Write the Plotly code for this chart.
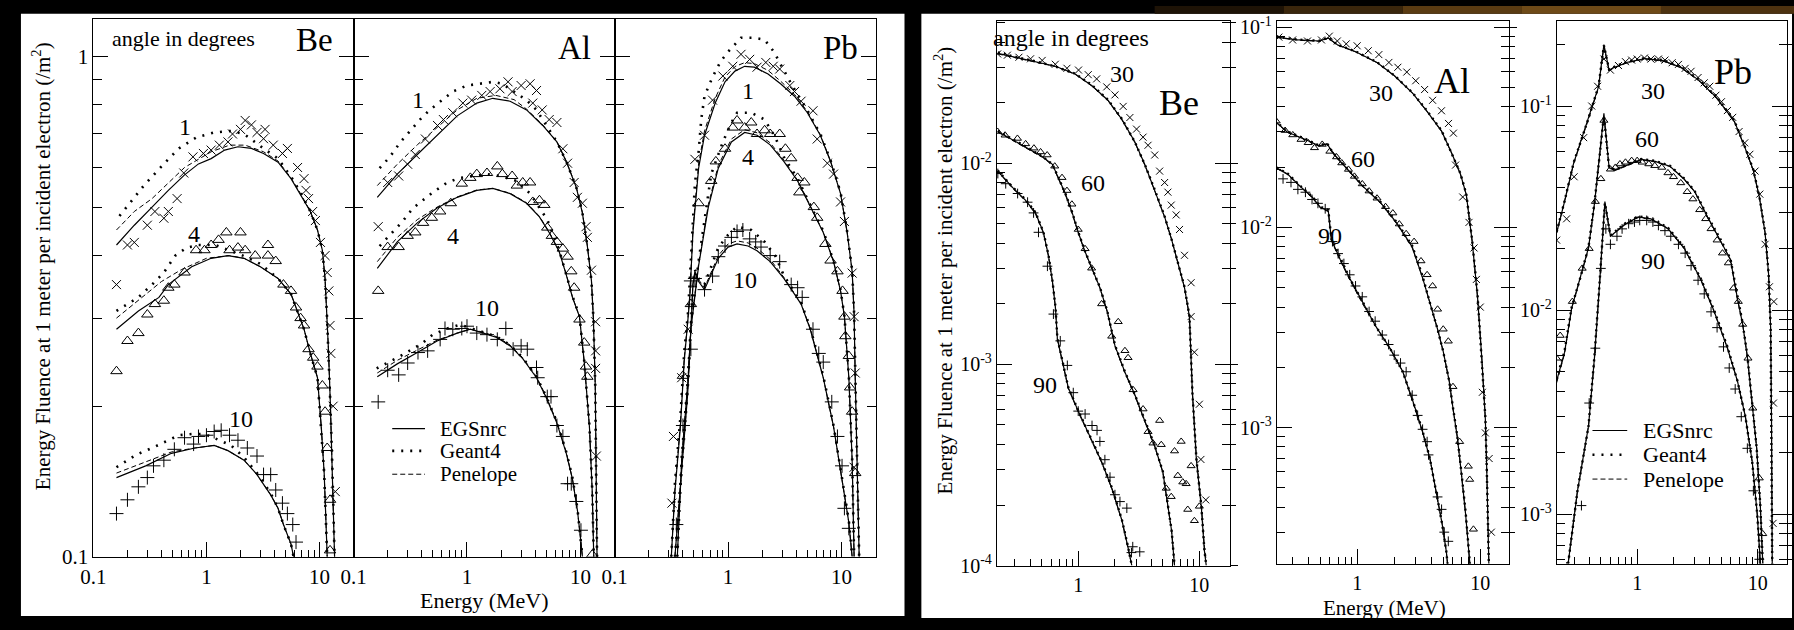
import math
import plotly.graph_objects as go

W, H = 1794, 630
SERIF = "Liberation Serif"

# ======================= LEFT FIGURE (small angles 1, 4, 10 deg) =======================
# --- Be ---
be1_egs_e = [0.16, 0.23, 0.33, 0.46, 0.64, 0.85, 1.1, 1.45, 1.9, 2.5, 3.2, 4.3, 5.6, 6.8, 8.3, 9.6, 10.6, 11.2, 11.6, 12.0, 12.5, 13.0, 13.6]
be1_egs_v = [0.42, 0.46, 0.50, 0.54, 0.58, 0.61, 0.625, 0.65, 0.66, 0.655, 0.64, 0.615, 0.57, 0.53, 0.49, 0.45, 0.41, 0.36, 0.31, 0.26, 0.2, 0.15, 0.1]
be1_pen_e = [0.16, 0.23, 0.33, 0.46, 0.64, 1.1, 1.6, 2.2, 3.2, 4.3, 5.6, 6.8, 8.3, 9.6, 10.6, 11.2, 11.6, 12.0, 12.5, 13.0, 13.6]
be1_pen_v = [0.45, 0.49, 0.52, 0.56, 0.60, 0.645, 0.665, 0.665, 0.645, 0.618, 0.572, 0.532, 0.49, 0.45, 0.41, 0.36, 0.31, 0.26, 0.2, 0.15, 0.1]
be1_g4_e = [0.17, 0.21, 0.285, 0.42, 0.57, 0.82, 1.18, 1.65, 2.15, 3.2, 4.3, 5.6, 6.8, 8.3, 9.6, 10.6, 11.2, 11.6, 12.0, 12.5, 13.0, 13.6]
be1_g4_v = [0.48, 0.51, 0.555, 0.61, 0.655, 0.69, 0.705, 0.71, 0.70, 0.655, 0.625, 0.575, 0.535, 0.49, 0.45, 0.41, 0.36, 0.31, 0.26, 0.2, 0.15, 0.1]
be1_meas_e = [0.16, 0.2, 0.23, 0.3, 0.35, 0.42, 0.46, 0.55, 0.63, 0.76, 0.94, 1.1, 1.3, 1.55, 1.7, 2.0, 2.2, 2.5, 2.8, 3.2, 3.3, 3.9, 4.7, 5.2, 6.4, 7.3, 7.6, 8.0, 8.7, 9.2, 10.2, 11.2, 11.7, 12.1, 12.4, 12.6, 13.2, 13.8]
be1_meas_v = [0.35, 0.42, 0.425, 0.46, 0.49, 0.475, 0.49, 0.52, 0.585, 0.63, 0.64, 0.65, 0.665, 0.675, 0.70, 0.715, 0.745, 0.73, 0.705, 0.685, 0.715, 0.665, 0.64, 0.655, 0.60, 0.57, 0.54, 0.52, 0.49, 0.47, 0.425, 0.40, 0.37, 0.34, 0.29, 0.255, 0.2, 0.135]

be4_egs_e = [0.16, 0.25, 0.38, 0.46, 0.74, 1.1, 1.55, 2.15, 3.0, 4.3, 5.6, 7.3, 8.3, 9.6, 10.4, 11.0, 11.4, 11.7]
be4_egs_v = [0.285, 0.31, 0.33, 0.35, 0.38, 0.395, 0.40, 0.395, 0.38, 0.36, 0.335, 0.285, 0.255, 0.228, 0.18, 0.147, 0.118, 0.1]
be4_pen_e = [0.16, 0.25, 0.4, 0.6, 1.0, 1.6, 2.15, 3.0, 4.3, 5.6, 7.3, 8.3, 9.6, 10.4, 11.0, 11.4, 11.7]
be4_pen_v = [0.30, 0.325, 0.355, 0.375, 0.395, 0.40, 0.395, 0.38, 0.36, 0.335, 0.285, 0.255, 0.228, 0.18, 0.147, 0.118, 0.1]
be4_g4_e = [0.16, 0.25, 0.33, 0.42, 0.53, 0.67, 0.85, 1.2, 2.1, 3.0, 4.3, 5.6, 7.3, 8.3, 9.6, 10.4, 11.0, 11.4, 11.7]
be4_g4_v = [0.31, 0.33, 0.35, 0.37, 0.40, 0.415, 0.42, 0.42, 0.40, 0.385, 0.36, 0.335, 0.285, 0.255, 0.228, 0.18, 0.147, 0.118, 0.1]
be4_meas_e = [0.16, 0.2, 0.25, 0.3, 0.35, 0.42, 0.46, 0.52, 0.64, 0.81, 0.96, 1.1, 1.28, 1.5, 1.6, 1.9, 2.0, 2.2, 2.7, 3.5, 3.5, 4.1, 4.8, 5.6, 6.2, 6.8, 7.3, 8.0, 8.8, 9.6, 10.6, 11.2, 11.7, 12.4, 12.4]
be4_meas_v = [0.235, 0.27, 0.28, 0.305, 0.32, 0.325, 0.345, 0.35, 0.37, 0.41, 0.41, 0.42, 0.43, 0.445, 0.41, 0.415, 0.445, 0.41, 0.40, 0.42, 0.40, 0.39, 0.35, 0.34, 0.315, 0.30, 0.29, 0.26, 0.25, 0.24, 0.22, 0.195, 0.165, 0.13, 0.103]

be10_egs_e = [0.16, 0.29, 0.49, 0.79, 1.17, 1.55, 2.15, 2.8, 3.7, 4.3, 4.8, 5.6, 5.9]
be10_egs_v = [0.144, 0.152, 0.161, 0.165, 0.167, 0.163, 0.156, 0.146, 0.133, 0.125, 0.116, 0.106, 0.1]
be10_pen_e = [0.16, 0.29, 0.49, 0.79, 1.17, 1.55, 2.15, 2.8, 3.7, 4.3, 4.8, 5.6, 5.9]
be10_pen_v = [0.147, 0.155, 0.162, 0.165, 0.167, 0.163, 0.156, 0.146, 0.133, 0.125, 0.116, 0.106, 0.1]
be10_g4_e = [0.16, 0.2, 0.24, 0.33, 0.43, 0.57, 0.74, 0.96, 1.3, 1.65, 2.15, 2.8, 3.7, 4.3, 4.8, 5.6, 5.9]
be10_g4_v = [0.151, 0.156, 0.16, 0.165, 0.17, 0.175, 0.176, 0.176, 0.171, 0.167, 0.158, 0.147, 0.134, 0.125, 0.116, 0.106, 0.1]
be10_meas_e = [0.16, 0.2, 0.25, 0.3, 0.34, 0.42, 0.52, 0.64, 0.77, 0.85, 1.0, 1.17, 1.35, 1.6, 1.9, 2.3, 2.8, 3.2, 3.7, 4.1, 4.7, 5.2, 5.8, 6.2]
be10_meas_v = [0.122, 0.13, 0.138, 0.144, 0.152, 0.156, 0.164, 0.173, 0.168, 0.174, 0.175, 0.178, 0.179, 0.175, 0.171, 0.165, 0.159, 0.146, 0.146, 0.136, 0.128, 0.122, 0.116, 0.107]

# --- Al ---
al1_egs_e = [0.162, 0.243, 0.365, 0.545, 0.82, 1.22, 1.69, 2.4, 3.35, 4.65, 6.2, 7.5, 9.2, 10.4, 11.5, 12.5, 13.0, 13.5, 13.8, 14.0]
al1_egs_v = [0.523, 0.582, 0.637, 0.696, 0.761, 0.807, 0.825, 0.814, 0.782, 0.728, 0.675, 0.617, 0.547, 0.487, 0.418, 0.356, 0.30, 0.22, 0.15, 0.1]
al1_pen_e = [0.162, 0.243, 0.365, 0.545, 0.82, 1.22, 1.8, 2.6, 3.35, 4.65, 6.2, 7.5, 9.2, 10.4, 11.5, 12.5, 13.0, 13.5, 13.8, 14.0]
al1_pen_v = [0.552, 0.609, 0.666, 0.721, 0.782, 0.825, 0.836, 0.82, 0.785, 0.73, 0.676, 0.618, 0.548, 0.488, 0.419, 0.357, 0.30, 0.22, 0.15, 0.1]
al1_g4_e = [0.17, 0.21, 0.26, 0.32, 0.385, 0.47, 0.58, 0.75, 1.0, 1.3, 1.7, 2.05, 2.6, 3.35, 4.1, 5.0, 6.2, 7.5, 9.2, 10.4, 11.5, 12.5, 13.0, 13.5, 13.8, 14.0]
al1_g4_v = [0.598, 0.631, 0.675, 0.712, 0.748, 0.782, 0.814, 0.851, 0.875, 0.882, 0.89, 0.882, 0.851, 0.818, 0.782, 0.728, 0.675, 0.617, 0.547, 0.487, 0.418, 0.356, 0.30, 0.22, 0.15, 0.1]
al1_meas_e = [0.165, 0.2, 0.25, 0.3, 0.35, 0.43, 0.55, 0.62, 0.75, 0.92, 1.1, 1.35, 1.6, 1.95, 2.3, 2.5, 3.0, 3.6, 3.8, 4.1, 4.6, 5.3, 6.2, 7.0, 7.7, 8.8, 9.4, 10.4, 11.2, 11.5, 12.5, 13.6, 13.6, 13.6, 13.8]
al1_meas_v = [0.457, 0.56, 0.577, 0.609, 0.637, 0.684, 0.728, 0.748, 0.772, 0.807, 0.818, 0.836, 0.851, 0.862, 0.89, 0.851, 0.875, 0.882, 0.807, 0.855, 0.782, 0.748, 0.738, 0.654, 0.612, 0.56, 0.523, 0.509, 0.457, 0.435, 0.374, 0.295, 0.258, 0.238, 0.159]

al4_egs_e = [0.162, 0.243, 0.365, 0.545, 0.82, 1.22, 1.69, 2.4, 3.35, 4.35, 5.3, 6.5, 7.5, 8.5, 9.8, 10.8, 12.0, 12.7, 13.1]
al4_egs_v = [0.377, 0.426, 0.465, 0.498, 0.523, 0.54, 0.545, 0.532, 0.509, 0.478, 0.445, 0.407, 0.366, 0.33, 0.302, 0.245, 0.182, 0.135, 0.1]
al4_pen_e = [0.162, 0.243, 0.365, 0.545, 0.82, 1.22, 1.69, 2.4, 3.35, 4.35, 5.3, 6.5, 7.5, 8.5, 9.8, 10.8, 12.0, 12.7, 13.1]
al4_pen_v = [0.389, 0.435, 0.472, 0.50, 0.524, 0.541, 0.545, 0.533, 0.51, 0.479, 0.446, 0.408, 0.367, 0.331, 0.302, 0.245, 0.182, 0.135, 0.1]
al4_g4_e = [0.17, 0.21, 0.27, 0.335, 0.41, 0.5, 0.67, 0.87, 1.13, 1.5, 1.95, 2.75, 3.6, 4.35, 5.1, 6.5, 7.5, 8.5, 9.8, 10.8, 12.0, 12.7, 13.1]
al4_g4_v = [0.418, 0.441, 0.468, 0.498, 0.516, 0.535, 0.56, 0.572, 0.577, 0.582, 0.577, 0.564, 0.532, 0.50, 0.472, 0.41, 0.368, 0.332, 0.303, 0.246, 0.183, 0.136, 0.1]
al4_meas_e = [0.165, 0.2, 0.25, 0.3, 0.35, 0.41, 0.49, 0.58, 0.72, 0.9, 1.07, 1.22, 1.5, 1.85, 2.05, 2.5, 2.75, 3.1, 3.6, 3.8, 4.35, 4.8, 5.1, 5.6, 6.2, 7.0, 7.7, 8.3, 8.8, 9.8, 10.8, 11.2, 11.5, 12.7]
al4_meas_v = [0.34, 0.416, 0.416, 0.438, 0.445, 0.465, 0.476, 0.49, 0.509, 0.557, 0.572, 0.582, 0.585, 0.603, 0.582, 0.577, 0.552, 0.56, 0.56, 0.512, 0.516, 0.505, 0.455, 0.438, 0.426, 0.413, 0.398, 0.372, 0.345, 0.298, 0.268, 0.24, 0.229, 0.101]

al10_egs_e = [0.162, 0.243, 0.365, 0.545, 0.82, 1.07, 1.4, 1.85, 2.4, 3.1, 4.1, 5.0, 6.2, 7.5, 8.5, 9.4, 10.1, 10.4]
al10_egs_v = [0.229, 0.243, 0.256, 0.27, 0.28, 0.285, 0.28, 0.274, 0.264, 0.249, 0.228, 0.208, 0.185, 0.161, 0.143, 0.124, 0.107, 0.1]
al10_pen_e = [0.162, 0.243, 0.365, 0.545, 0.82, 1.07, 1.4, 1.85, 2.4, 3.1, 4.1, 5.0, 6.2, 7.5, 8.5, 9.4, 10.1, 10.4]
al10_pen_v = [0.233, 0.247, 0.259, 0.271, 0.28, 0.285, 0.281, 0.275, 0.265, 0.25, 0.229, 0.209, 0.186, 0.162, 0.143, 0.124, 0.107, 0.1]
al10_g4_e = [0.16, 0.2, 0.26, 0.33, 0.41, 0.5, 0.67, 0.87, 1.13, 1.4, 1.85, 2.4, 3.1, 4.1, 5.0, 6.2, 7.5, 8.5, 9.4, 10.1, 10.4]
al10_g4_v = [0.238, 0.244, 0.252, 0.26, 0.268, 0.278, 0.286, 0.291, 0.286, 0.281, 0.275, 0.265, 0.25, 0.229, 0.209, 0.186, 0.162, 0.144, 0.125, 0.108, 0.1]
al10_meas_e = [0.165, 0.2, 0.25, 0.3, 0.37, 0.45, 0.58, 0.64, 0.75, 0.9, 1.0, 1.22, 1.5, 1.85, 2.2, 2.55, 3.0, 3.4, 4.1, 4.2, 5.1, 5.5, 6.2, 7.0, 7.7, 8.3, 9.2, 10.1]
al10_meas_v = [0.204, 0.236, 0.231, 0.244, 0.256, 0.258, 0.272, 0.286, 0.285, 0.286, 0.289, 0.28, 0.278, 0.272, 0.286, 0.26, 0.264, 0.26, 0.239, 0.228, 0.209, 0.209, 0.183, 0.174, 0.14, 0.14, 0.129, 0.113]

# --- Pb ---
pb1_egs_e = [0.316, 0.34, 0.38, 0.41, 0.445, 0.46, 0.49, 0.55, 0.62, 0.77, 0.94, 1.15, 1.4, 1.7, 2.25, 2.9, 3.85, 5.0, 6.5, 8.0, 9.8, 11.2, 12.4, 12.9, 13.2, 13.7, 14.3]
pb1_egs_v = [0.1, 0.135, 0.182, 0.245, 0.302, 0.33, 0.445, 0.598, 0.696, 0.807, 0.89, 0.935, 0.956, 0.952, 0.923, 0.882, 0.833, 0.772, 0.696, 0.617, 0.532, 0.445, 0.372, 0.306, 0.228, 0.156, 0.1]
pb1_pen_e = [0.316, 0.34, 0.38, 0.41, 0.445, 0.46, 0.49, 0.55, 0.62, 0.77, 0.94, 1.15, 1.4, 1.7, 2.25, 2.9, 3.85, 5.0, 6.5, 8.0, 9.8, 11.2, 12.4, 12.9, 13.2, 13.7, 14.3]
pb1_pen_v = [0.1, 0.137, 0.185, 0.248, 0.305, 0.335, 0.452, 0.61, 0.71, 0.825, 0.91, 0.955, 0.972, 0.968, 0.938, 0.893, 0.84, 0.776, 0.698, 0.618, 0.533, 0.446, 0.372, 0.306, 0.228, 0.156, 0.1]
pb1_g4_e = [0.316, 0.34, 0.38, 0.41, 0.445, 0.51, 0.55, 0.58, 0.62, 0.73, 0.86, 1.03, 1.3, 1.7, 2.1, 2.55, 2.9, 3.6, 5.0, 6.5, 8.0, 9.8, 11.2, 12.4, 12.9, 13.2, 13.7, 14.3]
pb1_g4_v = [0.1, 0.14, 0.19, 0.255, 0.31, 0.556, 0.645, 0.748, 0.833, 0.91, 0.978, 1.03, 1.09, 1.09, 1.08, 1.02, 0.965, 0.882, 0.78, 0.70, 0.62, 0.535, 0.447, 0.374, 0.307, 0.229, 0.157, 0.1]
pb1_meas_e = [0.32, 0.33, 0.39, 0.445, 0.51, 0.62, 0.73, 0.9, 1.1, 1.3, 1.55, 1.8, 2.15, 2.5, 2.85, 3.5, 3.85, 4.4, 5.6, 6.1, 7.5, 8.5, 9.8, 10.6, 12.4, 12.9, 13.2, 12.9]
pb1_meas_v = [0.128, 0.174, 0.228, 0.285, 0.623, 0.696, 0.818, 0.914, 0.956, 1.01, 0.987, 0.952, 0.973, 0.956, 0.944, 0.875, 0.851, 0.814, 0.779, 0.684, 0.612, 0.582, 0.512, 0.468, 0.369, 0.302, 0.233, 0.151]

pb4_egs_e = [0.357, 0.39, 0.445, 0.47, 0.55, 0.67, 0.82, 1.07, 1.4, 1.8, 2.35, 3.1, 4.1, 5.3, 6.9, 8.5, 9.8, 10.6, 11.6, 12.4, 12.9]
pb4_egs_v = [0.1, 0.156, 0.228, 0.285, 0.382, 0.5, 0.598, 0.675, 0.705, 0.696, 0.666, 0.617, 0.564, 0.5, 0.445, 0.389, 0.34, 0.302, 0.228, 0.156, 0.1]
pb4_pen_e = [0.357, 0.39, 0.445, 0.47, 0.55, 0.67, 0.82, 1.07, 1.4, 1.8, 2.35, 3.1, 4.1, 5.3, 6.9, 8.5, 9.8, 10.6, 11.6, 12.4, 12.9]
pb4_pen_v = [0.1, 0.157, 0.23, 0.288, 0.386, 0.506, 0.606, 0.684, 0.714, 0.704, 0.672, 0.621, 0.566, 0.502, 0.446, 0.39, 0.34, 0.302, 0.228, 0.156, 0.1]
pb4_g4_e = [0.357, 0.39, 0.445, 0.47, 0.55, 0.71, 0.9, 1.07, 1.2, 1.6, 2.1, 2.6, 3.1, 4.1, 5.3, 6.9, 8.5, 9.8, 10.6, 11.6, 12.4, 12.9]
pb4_g4_v = [0.1, 0.158, 0.23, 0.29, 0.39, 0.582, 0.675, 0.738, 0.772, 0.772, 0.748, 0.69, 0.63, 0.57, 0.505, 0.448, 0.39, 0.342, 0.303, 0.229, 0.157, 0.1]
pb4_meas_e = [0.4, 0.47, 0.55, 0.71, 0.78, 0.94, 1.1, 1.2, 1.4, 1.6, 1.8, 2.1, 2.35, 2.85, 3.2, 3.6, 4.1, 4.25, 4.7, 5.7, 6.1, 7.2, 8.0, 9.2, 10.2, 10.6, 10.8, 11.6, 11.9, 12.4, 13.2]
pb4_meas_v = [0.23, 0.32, 0.509, 0.564, 0.617, 0.654, 0.721, 0.745, 0.721, 0.738, 0.70, 0.712, 0.70, 0.70, 0.654, 0.626, 0.572, 0.535, 0.56, 0.50, 0.476, 0.422, 0.391, 0.372, 0.34, 0.302, 0.276, 0.252, 0.218, 0.195, 0.147]

pb10_egs_e = [0.34, 0.39, 0.44, 0.47, 0.49, 0.51, 0.55, 0.62, 0.71, 0.82, 1.0, 1.2, 1.5, 1.8, 2.35, 3.1, 3.85, 4.4, 5.3, 6.9, 8.5, 10.0, 11.6, 12.4]
pb10_egs_v = [0.1, 0.146, 0.211, 0.285, 0.35, 0.37, 0.355, 0.342, 0.366, 0.395, 0.416, 0.422, 0.418, 0.409, 0.389, 0.36, 0.335, 0.32, 0.285, 0.228, 0.182, 0.146, 0.117, 0.1]
pb10_pen_e = [0.34, 0.39, 0.44, 0.47, 0.49, 0.51, 0.55, 0.62, 0.71, 0.82, 1.0, 1.2, 1.5, 1.8, 2.35, 3.1, 3.85, 4.4, 5.3, 6.9, 8.5, 10.0, 11.6, 12.4]
pb10_pen_v = [0.1, 0.147, 0.213, 0.287, 0.352, 0.373, 0.358, 0.345, 0.37, 0.4, 0.422, 0.428, 0.424, 0.414, 0.393, 0.362, 0.336, 0.321, 0.286, 0.228, 0.182, 0.146, 0.117, 0.1]
pb10_g4_e = [0.34, 0.39, 0.44, 0.47, 0.49, 0.51, 0.55, 0.62, 0.71, 0.82, 1.0, 1.2, 1.6, 2.1, 2.6, 3.1, 3.85, 4.4, 5.3, 6.9, 8.5, 10.0, 11.6, 12.4]
pb10_g4_v = [0.1, 0.15, 0.215, 0.29, 0.355, 0.375, 0.36, 0.35, 0.38, 0.415, 0.44, 0.457, 0.45, 0.426, 0.40, 0.365, 0.338, 0.322, 0.287, 0.23, 0.183, 0.147, 0.118, 0.1]
pb10_meas_e = [0.35, 0.4, 0.47, 0.47, 0.51, 0.62, 0.73, 0.82, 0.94, 1.07, 1.2, 1.35, 1.55, 1.75, 1.95, 2.35, 2.85, 3.6, 4.1, 4.5, 5.6, 6.3, 6.9, 8.2, 9.2, 10.1, 10.6, 11.6]
pb10_meas_v = [0.116, 0.183, 0.26, 0.356, 0.36, 0.342, 0.364, 0.398, 0.418, 0.435, 0.447, 0.45, 0.432, 0.426, 0.416, 0.40, 0.389, 0.35, 0.345, 0.33, 0.285, 0.255, 0.245, 0.204, 0.174, 0.152, 0.125, 0.114]

# ======================= RIGHT FIGURE (large angles 30, 60, 90 deg) =======================
r_be30_e = [0.217, 0.305, 0.444, 0.648, 0.944, 1.30, 1.76, 2.30, 2.93, 3.54, 4.28, 5.17, 5.89, 6.61, 7.54, 8.28, 8.77, 9.45, 10.4, 11.0, 11.4]
r_be30_egs = [0.0352, 0.0336, 0.0321, 0.0304, 0.0278, 0.0243, 0.0206, 0.0165, 0.0128, 0.00989, 0.00732, 0.00542, 0.0042, 0.00325, 0.00241, 0.00173, 0.000708, 0.000336, 0.000193, 0.000119, 0.0001]
r_be30_g4 = [0.0356, 0.0338, 0.0322, 0.0303, 0.0279, 0.0245, 0.0207, 0.0166, 0.0128, 0.0099, 0.0074, 0.00545, 0.0042, 0.00328, 0.00243, 0.00175, 0.00072, 0.00034, 0.000195, 0.00012, 0.0001]
r_be30_pen = [0.0350, 0.0335, 0.0320, 0.0303, 0.0277, 0.0242, 0.0205, 0.0164, 0.0127, 0.0098, 0.0073, 0.0054, 0.0042, 0.00325, 0.00242, 0.00174, 0.00073, 0.00035, 0.0002, 0.000125, 0.000105]
r_be30_meas_e = [0.216, 0.26, 0.324, 0.404, 0.504, 0.647, 0.807, 1.006, 1.21, 1.42, 1.72, 2.01, 2.35, 2.67, 3.03, 3.43, 3.77, 4.28, 4.70, 5.17, 5.50, 5.86, 6.44, 6.86, 7.54, 8.55, 8.55, 9.1, 10.0, 10.3, 11.3]
r_be30_meas_v = [0.035, 0.0345, 0.0337, 0.0331, 0.0325, 0.0311, 0.0297, 0.0291, 0.0276, 0.0263, 0.024, 0.0219, 0.0192, 0.0169, 0.0148, 0.0135, 0.0123, 0.011, 0.00915, 0.00803, 0.00719, 0.0062, 0.00554, 0.00469, 0.00349, 0.00255, 0.00173, 0.00115, 0.000634, 0.000337, 0.000212]

r_be60_e = [0.217, 0.288, 0.389, 0.507, 0.612, 0.686, 0.782, 0.893, 1.0, 1.14, 1.30, 1.51, 1.73, 2.01, 2.43, 2.93, 3.54, 4.28, 5.0, 5.5, 5.9, 6.24]
r_be60_egs = [0.0144, 0.0131, 0.0118, 0.0108, 0.00989, 0.00847, 0.00708, 0.00567, 0.00454, 0.00363, 0.00301, 0.00241, 0.00185, 0.00124, 0.000915, 0.000708, 0.000525, 0.000393, 0.000291, 0.000201, 0.000149, 0.0001]
r_be60_g4 = [0.0145, 0.0132, 0.0119, 0.0108, 0.0099, 0.0085, 0.0071, 0.0057, 0.00456, 0.00365, 0.00302, 0.00242, 0.00186, 0.00125, 0.00092, 0.00071, 0.00053, 0.000395, 0.000293, 0.000203, 0.00015, 0.0001]
r_be60_pen = [0.0143, 0.013, 0.0118, 0.0107, 0.0098, 0.0084, 0.007, 0.0056, 0.0045, 0.0036, 0.003, 0.0024, 0.00184, 0.00123, 0.00091, 0.0007, 0.00052, 0.00039, 0.00029, 0.0002, 0.000148, 0.0001]
r_be60_meas_e = [0.216, 0.249, 0.315, 0.368, 0.431, 0.489, 0.554, 0.64, 0.735, 0.807, 0.887, 1.0, 1.14, 1.29, 1.56, 1.89, 2.14, 2.43, 2.58, 2.84, 3.43, 3.77, 4.14, 4.7, 4.85, 5.33, 5.86, 6.24, 6.64, 7.08, 7.3, 7.78, 8.02, 8.55, 9.1, 10.0]
r_be60_meas_v = [0.0144, 0.0138, 0.0133, 0.0125, 0.0119, 0.0114, 0.011, 0.00968, 0.00849, 0.00732, 0.00626, 0.00469, 0.00376, 0.00301, 0.002, 0.00138, 0.00163, 0.00117, 0.00108, 0.000748, 0.0006, 0.000463, 0.000406, 0.000526, 0.000399, 0.000242, 0.00022, 0.000371, 0.00028, 0.000414, 0.00026, 0.000255, 0.00019, 0.000313, 0.000167, 0.000197]

r_be90_e = [0.217, 0.288, 0.368, 0.444, 0.516, 0.568, 0.612, 0.648, 0.673, 0.74, 0.828, 1.0, 1.21, 1.57, 1.9, 2.3, 2.57, 2.77]
r_be90_egs = [0.00915, 0.00757, 0.00655, 0.00567, 0.00454, 0.00348, 0.0026, 0.00193, 0.00134, 0.00102, 0.000766, 0.000586, 0.000454, 0.000325, 0.000241, 0.000167, 0.000124, 0.0001]
r_be90_g4 = [0.0092, 0.0076, 0.0066, 0.0057, 0.00456, 0.0035, 0.00262, 0.00195, 0.00135, 0.00103, 0.00077, 0.00059, 0.000456, 0.000327, 0.000243, 0.000168, 0.000125, 0.0001]
r_be90_pen = [0.0091, 0.0075, 0.0065, 0.0056, 0.0045, 0.00345, 0.00258, 0.00192, 0.00133, 0.00101, 0.00076, 0.00058, 0.00045, 0.000322, 0.00024, 0.000166, 0.000123, 0.0001]
r_be90_meas_e = [0.217, 0.252, 0.316, 0.382, 0.428, 0.47, 0.557, 0.624, 0.711, 0.813, 0.91, 1.0, 1.14, 1.3, 1.43, 1.51, 1.66, 1.83, 2.01, 2.21, 2.52, 2.75, 2.82, 3.22]
r_be90_meas_v = [0.0089, 0.00792, 0.00708, 0.00641, 0.00567, 0.00454, 0.00308, 0.00178, 0.00131, 0.000989, 0.000724, 0.000586, 0.000567, 0.000497, 0.00047, 0.000414, 0.000336, 0.000275, 0.000225, 0.000208, 0.000193, 0.000116, 0.000124, 0.000117]

r_al30_e = [0.222, 0.334, 0.494, 0.583, 0.69, 0.964, 1.45, 2.02, 2.83, 3.67, 4.85, 5.83, 6.9, 7.7, 8.6, 9.5, 10.3, 11.0, 11.3, 11.6, 11.8]
r_al30_egs = [0.0894, 0.0865, 0.0855, 0.0885, 0.0818, 0.0757, 0.0668, 0.0571, 0.0468, 0.0383, 0.0303, 0.0237, 0.0185, 0.0146, 0.0085, 0.0045, 0.0022, 0.0011, 0.0006, 0.0003, 0.00018]
r_al30_g4 = [0.0898, 0.0868, 0.0858, 0.0888, 0.082, 0.076, 0.067, 0.0573, 0.047, 0.0385, 0.0305, 0.0238, 0.0186, 0.0147, 0.0086, 0.0046, 0.00225, 0.00112, 0.00061, 0.00031, 0.00018]
r_al30_pen = [0.089, 0.0862, 0.0852, 0.0882, 0.0815, 0.0755, 0.0666, 0.057, 0.0467, 0.0382, 0.0302, 0.0236, 0.0184, 0.0145, 0.0085, 0.0045, 0.0022, 0.0011, 0.0006, 0.0003, 0.00018]
r_al30_meas_e = [0.231, 0.299, 0.395, 0.513, 0.594, 0.69, 0.815, 1.0, 1.23, 1.5, 1.81, 2.14, 2.53, 2.99, 3.53, 4.1, 4.84, 5.52, 6.05, 6.3, 7.2, 8.1, 8.9, 9.3, 10.0, 10.4, 11.0, 11.8, 12.3]
r_al30_meas_v = [0.0894, 0.0865, 0.0855, 0.0865, 0.0904, 0.0855, 0.0827, 0.0809, 0.0764, 0.0731, 0.0668, 0.0632, 0.0598, 0.0541, 0.0489, 0.0432, 0.0383, 0.0331, 0.0296, 0.0205, 0.0142, 0.0106, 0.0079, 0.0055, 0.004, 0.0015, 0.00094, 0.0007, 0.0003]

r_al60_e = [0.215, 0.27, 0.38, 0.49, 0.57, 0.63, 0.75, 0.9, 1.12, 1.55, 2.1, 2.8, 3.4, 3.9, 4.5, 5.0, 5.6, 6.0, 6.5, 7.0, 7.6, 8.4]
r_al60_egs = [0.034, 0.030, 0.0275, 0.0256, 0.0262, 0.0237, 0.021, 0.0185, 0.016, 0.0133, 0.0105, 0.008, 0.0056, 0.0042, 0.0031, 0.0024, 0.0017, 0.00125, 0.0009, 0.0006, 0.00037, 0.00018]
r_al60_g4 = [0.0342, 0.0302, 0.0277, 0.0257, 0.0263, 0.0238, 0.0211, 0.0186, 0.0161, 0.0134, 0.0106, 0.0081, 0.0057, 0.0042, 0.0031, 0.0024, 0.0017, 0.00126, 0.00091, 0.00061, 0.00038, 0.00018]
r_al60_pen = [0.0338, 0.0299, 0.0274, 0.0255, 0.0261, 0.0236, 0.0209, 0.0184, 0.0159, 0.0132, 0.0104, 0.0079, 0.0056, 0.0042, 0.0031, 0.0024, 0.0017, 0.00124, 0.0009, 0.0006, 0.00037, 0.00018]
r_al60_meas_e = [0.22, 0.26, 0.3, 0.35, 0.4, 0.45, 0.52, 0.6, 0.68, 0.75, 0.85, 0.95, 1.1, 1.25, 1.45, 1.7, 1.95, 2.2, 2.5, 2.9, 3.3, 3.7, 4.1, 4.5, 5.0, 5.5, 6.0, 6.8, 8.0, 8.2, 8.8, 9.4]
r_al60_meas_v = [0.034, 0.0305, 0.029, 0.0275, 0.0265, 0.025, 0.026, 0.024, 0.0225, 0.021, 0.0195, 0.018, 0.0165, 0.0152, 0.014, 0.0127, 0.0118, 0.0104, 0.0093, 0.0085, 0.0068, 0.0058, 0.0051, 0.0039, 0.0031, 0.0027, 0.0016, 0.00085, 0.00064, 0.00055, 0.00031, 0.0002]

r_al90_e = [0.222, 0.272, 0.347, 0.43, 0.503, 0.583, 0.617, 0.73, 0.879, 1.12, 1.42, 1.84, 2.35, 2.9, 3.4, 3.9, 4.4, 4.9, 5.3, 5.55]
r_al90_egs = [0.0198, 0.0185, 0.016, 0.0142, 0.0126, 0.0121, 0.0087, 0.0069, 0.0055, 0.0042, 0.0032, 0.0025, 0.0019, 0.0013, 0.00095, 0.0007, 0.00048, 0.00033, 0.00024, 0.00018]
r_al90_g4 = [0.0199, 0.0186, 0.0161, 0.0143, 0.0127, 0.0122, 0.0088, 0.007, 0.0055, 0.0042, 0.0032, 0.0025, 0.0019, 0.0013, 0.00096, 0.0007, 0.00048, 0.00033, 0.00024, 0.00018]
r_al90_pen = [0.0197, 0.0184, 0.0159, 0.0141, 0.0125, 0.012, 0.0086, 0.0068, 0.0054, 0.0041, 0.0032, 0.0025, 0.0019, 0.0013, 0.00095, 0.0007, 0.00048, 0.00033, 0.00024, 0.00018]
r_al90_meas_e = [0.22, 0.25, 0.29, 0.33, 0.38, 0.43, 0.48, 0.55, 0.63, 0.7, 0.78, 0.87, 0.97, 1.1, 1.25, 1.4, 1.6, 1.8, 2.0, 2.25, 2.5, 2.8, 3.1, 3.4, 3.7, 3.8, 4.5, 4.85, 5.1, 5.5]
r_al90_meas_v = [0.0195, 0.0175, 0.0168, 0.0155, 0.015, 0.0138, 0.0132, 0.0124, 0.0085, 0.0074, 0.0066, 0.0058, 0.0051, 0.0045, 0.0038, 0.0034, 0.0029, 0.0026, 0.0023, 0.0021, 0.0019, 0.00145, 0.00115, 0.00098, 0.00085, 0.00073, 0.00045, 0.00039, 0.0003, 0.00027]

r_pb30_e = [0.215, 0.25, 0.297, 0.388, 0.478, 0.53, 0.585, 0.65, 0.828, 1.16, 1.64, 2.3, 3.24, 4.55, 6.41, 7.74, 9.18, 10.3, 11.5, 12.3, 12.8, 13.0, 13.2]
r_pb30_egs = [0.024, 0.034, 0.0524, 0.0839, 0.124, 0.2, 0.15, 0.155, 0.164, 0.171, 0.167, 0.155, 0.134, 0.110, 0.0839, 0.0638, 0.0485, 0.036, 0.024, 0.015, 0.008, 0.003, 0.0005]
r_pb30_g4 = [0.0242, 0.0342, 0.0527, 0.0843, 0.125, 0.198, 0.151, 0.156, 0.165, 0.172, 0.168, 0.156, 0.135, 0.111, 0.0845, 0.0642, 0.0488, 0.0362, 0.0242, 0.0151, 0.0081, 0.003, 0.0005]
r_pb30_pen = [0.0238, 0.0338, 0.052, 0.0835, 0.123, 0.195, 0.149, 0.154, 0.163, 0.17, 0.166, 0.154, 0.133, 0.109, 0.0835, 0.0635, 0.0483, 0.0358, 0.0239, 0.0149, 0.008, 0.003, 0.0005]
r_pb30_meas_e = [0.215, 0.26, 0.3, 0.36, 0.42, 0.47, 0.53, 0.6, 0.7, 0.8, 0.9, 1.0, 1.15, 1.3, 1.5, 1.7, 1.95, 2.2, 2.5, 2.8, 3.2, 3.6, 4.0, 4.5, 5.0, 5.6, 6.2, 7.0, 7.8, 8.6, 9.5, 10.4, 11.5, 12.5, 13.6, 13.5, 13.4]
r_pb30_meas_v = [0.022, 0.028, 0.045, 0.07, 0.1, 0.125, 0.17, 0.15, 0.158, 0.165, 0.168, 0.17, 0.172, 0.17, 0.17, 0.168, 0.163, 0.16, 0.153, 0.148, 0.138, 0.13, 0.125, 0.113, 0.105, 0.095, 0.088, 0.075, 0.066, 0.058, 0.048, 0.037, 0.021, 0.013, 0.011, 0.0035, 0.0009]

r_pb60_e = [0.215, 0.25, 0.286, 0.34, 0.395, 0.443, 0.486, 0.53, 0.585, 0.65, 0.83, 1.08, 1.41, 1.87, 2.44, 3.0, 3.84, 4.91, 5.94, 6.78, 7.5, 8.2, 9.0, 9.8, 10.5, 11.0, 11.3]
r_pb60_egs = [0.0045, 0.0062, 0.0102, 0.0145, 0.0202, 0.0334, 0.0553, 0.092, 0.05, 0.0485, 0.0513, 0.0547, 0.0535, 0.0507, 0.044, 0.0381, 0.0286, 0.022, 0.0177, 0.0114, 0.0085, 0.0059, 0.0035, 0.0021, 0.0011, 0.0006, 0.0004]
r_pb60_g4 = [0.0046, 0.0063, 0.0103, 0.0146, 0.0204, 0.0337, 0.0556, 0.09, 0.0502, 0.0488, 0.0516, 0.055, 0.0538, 0.051, 0.0443, 0.0383, 0.0288, 0.0222, 0.0178, 0.0115, 0.0086, 0.006, 0.0036, 0.0021, 0.0011, 0.0006, 0.0004]
r_pb60_pen = [0.0044, 0.0061, 0.0101, 0.0144, 0.02, 0.0331, 0.055, 0.089, 0.0497, 0.0482, 0.051, 0.0544, 0.0532, 0.0505, 0.0438, 0.038, 0.0285, 0.0219, 0.0176, 0.0113, 0.0085, 0.0059, 0.0035, 0.0021, 0.0011, 0.0006, 0.0004]
r_pb60_meas_e = [0.215, 0.23, 0.29, 0.35, 0.4, 0.45, 0.5, 0.53, 0.6, 0.66, 0.72, 0.8, 0.9, 1.0, 1.1, 1.25, 1.4, 1.6, 1.8, 2.0, 2.3, 2.6, 2.9, 3.3, 3.7, 4.1, 4.6, 5.1, 5.7, 6.3, 6.9, 7.5, 8.3, 9.1, 10.3, 11.0]
r_pb60_meas_v = [0.0058, 0.0075, 0.011, 0.016, 0.02, 0.034, 0.044, 0.085, 0.049, 0.05, 0.052, 0.053, 0.054, 0.054, 0.053, 0.052, 0.051, 0.05, 0.047, 0.045, 0.042, 0.038, 0.035, 0.031, 0.028, 0.025, 0.022, 0.019, 0.017, 0.0128, 0.011, 0.0085, 0.0058, 0.0033, 0.0015, 0.0008]

r_pb90_e = [0.26, 0.32, 0.395, 0.443, 0.486, 0.525, 0.54, 0.6, 0.78, 1.02, 1.3, 1.8, 2.44, 3.36, 4.31, 5.61, 6.78, 7.9, 9.0, 9.9, 10.5, 10.8]
r_pb90_egs = [0.0005, 0.0013, 0.0027, 0.0059, 0.013, 0.026, 0.034, 0.023, 0.0262, 0.0286, 0.028, 0.0251, 0.0202, 0.0142, 0.01, 0.0065, 0.0045, 0.003, 0.0018, 0.001, 0.0006, 0.00045]
r_pb90_g4 = [0.0005, 0.0013, 0.0027, 0.006, 0.0132, 0.0263, 0.0335, 0.0232, 0.0264, 0.0288, 0.0282, 0.0253, 0.0204, 0.0143, 0.0101, 0.0066, 0.0045, 0.003, 0.0018, 0.001, 0.0006, 0.00045]
r_pb90_pen = [0.0005, 0.0013, 0.0027, 0.0058, 0.0129, 0.0258, 0.0335, 0.0229, 0.026, 0.0284, 0.0278, 0.025, 0.0201, 0.0141, 0.0099, 0.0065, 0.0045, 0.003, 0.0018, 0.001, 0.0006, 0.00045]
r_pb90_meas_e = [0.26, 0.345, 0.4, 0.45, 0.5, 0.55, 0.6, 0.68, 0.75, 0.85, 0.95, 1.05, 1.2, 1.35, 1.5, 1.7, 1.9, 2.2, 2.5, 2.8, 3.2, 3.6, 4.1, 4.6, 5.2, 5.8, 6.5, 7.3, 8.2, 9.2, 10.3]
r_pb90_meas_v = [0.00055, 0.0011, 0.0035, 0.0065, 0.016, 0.025, 0.021, 0.023, 0.025, 0.0265, 0.027, 0.0275, 0.0275, 0.027, 0.026, 0.0245, 0.023, 0.021, 0.019, 0.0165, 0.014, 0.012, 0.0098, 0.0082, 0.0066, 0.0052, 0.0041, 0.003, 0.0021, 0.0013, 0.0006]

# ======================= figure =======================
fig = go.Figure()


def pxx(x):
    return x / W


def pxy(y):
    return 1 - y / H


def ax_names(n):
    s = "" if n == 1 else str(n)
    return "x" + s, "y" + s, "xaxis" + s, "yaxis" + s


def add_lines(n, egs, pen, g4, dotdash, g4w):
    xr, yr, _, _ = ax_names(n)
    fig.add_trace(go.Scatter(x=pen[0], y=pen[1], mode="lines", xaxis=xr, yaxis=yr,
                             line=dict(color="black", width=1, dash="5px,3px"),
                             showlegend=False, hoverinfo="skip"))
    fig.add_trace(go.Scatter(x=egs[0], y=egs[1], mode="lines", xaxis=xr, yaxis=yr,
                             line=dict(color="black", width=1.2),
                             showlegend=False, hoverinfo="skip"))
    fig.add_trace(go.Scatter(x=g4[0], y=g4[1], mode="lines", xaxis=xr, yaxis=yr,
                             line=dict(color="black", width=g4w, dash=dotdash),
                             showlegend=False, hoverinfo="skip"))


def add_meas(n, e, v, sym, size):
    xr, yr, _, _ = ax_names(n)
    fig.add_trace(go.Scatter(x=e, y=v, mode="markers", xaxis=xr, yaxis=yr,
                             marker=dict(symbol=sym, size=size, color="black",
                                         line=dict(color="black", width=1)),
                             showlegend=False, hoverinfo="skip"))


XSYM, TSYM, PSYM = "x-thin-open", "triangle-up-open", "cross-thin-open"
LDOT = "2px,7px"
RDOT = "2px,4px"

left_sets = [
    (1, [(be1_egs_e, be1_egs_v), (be1_pen_e, be1_pen_v), (be1_g4_e, be1_g4_v), (be1_meas_e, be1_meas_v), XSYM, 9],
        [(be4_egs_e, be4_egs_v), (be4_pen_e, be4_pen_v), (be4_g4_e, be4_g4_v), (be4_meas_e, be4_meas_v), TSYM, 10],
        [(be10_egs_e, be10_egs_v), (be10_pen_e, be10_pen_v), (be10_g4_e, be10_g4_v), (be10_meas_e, be10_meas_v), PSYM, 10]),
    (2, [(al1_egs_e, al1_egs_v), (al1_pen_e, al1_pen_v), (al1_g4_e, al1_g4_v), (al1_meas_e, al1_meas_v), XSYM, 9],
        [(al4_egs_e, al4_egs_v), (al4_pen_e, al4_pen_v), (al4_g4_e, al4_g4_v), (al4_meas_e, al4_meas_v), TSYM, 10],
        [(al10_egs_e, al10_egs_v), (al10_pen_e, al10_pen_v), (al10_g4_e, al10_g4_v), (al10_meas_e, al10_meas_v), PSYM, 10]),
    (3, [(pb1_egs_e, pb1_egs_v), (pb1_pen_e, pb1_pen_v), (pb1_g4_e, pb1_g4_v), (pb1_meas_e, pb1_meas_v), XSYM, 9],
        [(pb4_egs_e, pb4_egs_v), (pb4_pen_e, pb4_pen_v), (pb4_g4_e, pb4_g4_v), (pb4_meas_e, pb4_meas_v), TSYM, 10],
        [(pb10_egs_e, pb10_egs_v), (pb10_pen_e, pb10_pen_v), (pb10_g4_e, pb10_g4_v), (pb10_meas_e, pb10_meas_v), PSYM, 10]),
]
for n, *curves in left_sets:
    for egs, pen, g4, meas, sym, size in curves:
        add_lines(n, egs, pen, g4, LDOT, 2.6)
        add_meas(n, meas[0], meas[1], sym, size)

right_sets = [
    (4, [(r_be30_e, r_be30_egs, r_be30_pen, r_be30_g4), (r_be30_meas_e, r_be30_meas_v), XSYM],
        [(r_be60_e, r_be60_egs, r_be60_pen, r_be60_g4), (r_be60_meas_e, r_be60_meas_v), TSYM],
        [(r_be90_e, r_be90_egs, r_be90_pen, r_be90_g4), (r_be90_meas_e, r_be90_meas_v), PSYM]),
    (5, [(r_al30_e, r_al30_egs, r_al30_pen, r_al30_g4), (r_al30_meas_e, r_al30_meas_v), XSYM],
        [(r_al60_e, r_al60_egs, r_al60_pen, r_al60_g4), (r_al60_meas_e, r_al60_meas_v), TSYM],
        [(r_al90_e, r_al90_egs, r_al90_pen, r_al90_g4), (r_al90_meas_e, r_al90_meas_v), PSYM]),
    (6, [(r_pb30_e, r_pb30_egs, r_pb30_pen, r_pb30_g4), (r_pb30_meas_e, r_pb30_meas_v), XSYM],
        [(r_pb60_e, r_pb60_egs, r_pb60_pen, r_pb60_g4), (r_pb60_meas_e, r_pb60_meas_v), TSYM],
        [(r_pb90_e, r_pb90_egs, r_pb90_pen, r_pb90_g4), (r_pb90_meas_e, r_pb90_meas_v), PSYM]),
]
for n, *curves in right_sets:
    for (e, egs, pen, g4), meas, sym in curves:
        add_lines(n, (e, egs), (e, pen), (e, g4), RDOT, 2.4)
        add_meas(n, meas[0], meas[1], sym, 7)

# ---------------- axes ----------------
tickfont_l = dict(family=SERIF, size=21, color="black")
tickfont_r = dict(family=SERIF, size=20, color="black")
minor_x_left = [0.2, 0.3, 0.4, 0.5, 0.6, 0.7, 0.8, 0.9, 2, 3, 4, 5, 6, 7, 8, 9]
minor_y_left = [0.2, 0.3, 0.4, 0.5, 0.6, 0.7, 0.8, 0.9]
minor_x_right = [0.3, 0.4, 0.5, 0.6, 0.7, 0.8, 0.9, 2, 3, 4, 5, 6, 7, 8, 9]
minor_y_right = [k * 10.0 ** d for d in range(-5, 0) for k in range(2, 10)]

panel_specs = [
    (1, 81, 343, 13, 567, [-1, 1.301], [-1, 0.0757], [0.1, 1, 10], ["0.1", "1", "10"], [0.1, 1], ["0.1", "1"], True, minor_x_left, minor_y_left),
    (2, 343, 606, 13, 567, [-1, 1.301], [-1, 0.0757], [0.1, 1, 10], ["0.1", "1", "10"], [0.1, 1], ["0.1", "1"], False, minor_x_left, minor_y_left),
    (3, 606, 869, 13, 567, [-1, 1.301], [-1, 0.0757], [0.1, 1, 10], ["0.1", "1", "10"], [0.1, 1], ["0.1", "1"], False, minor_x_left, minor_y_left),
    (4, 991, 1226, 15, 576, [-0.672, 1.254], [-4.0, -1.29], [1, 10], ["1", "10"], [1e-4, 1e-3, 1e-2], ["10<sup>-4</sup>", "10<sup>-3</sup>", "10<sup>-2</sup>"], True, minor_x_right, minor_y_right),
    (5, 1273, 1507, 15, 574, [-0.653, 1.234], [-3.680, -0.966], [1, 10], ["1", "10"], [1e-3, 1e-2, 1e-1], ["10<sup>-3</sup>", "10<sup>-2</sup>", "10<sup>-1</sup>"], True, minor_x_right, minor_y_right),
    (6, 1555, 1787, 15, 574, [-0.667, 1.243], [-3.243, -0.581], [1, 10], ["1", "10"], [1e-3, 1e-2, 1e-1], ["10<sup>-3</sup>", "10<sup>-2</sup>", "10<sup>-1</sup>"], True, minor_x_right, minor_y_right),
]

layout_axes = {}
for n, x0, x1, yt, yb, xr, yr, xtv, xtt, ytv, ytt, showy, mx, my in panel_specs:
    xr_id, yr_id, xkey, ykey = ax_names(n)
    tf = tickfont_l if n <= 3 else tickfont_r
    layout_axes[xkey] = dict(
        domain=[pxx(x0), pxx(x1)], anchor=yr_id, type="log", range=xr,
        showline=True, linecolor="black", linewidth=1, mirror=True,
        showgrid=False, zeroline=False,
        tickmode="array", tickvals=xtv, ticktext=xtt,
        ticks="inside", ticklen=15, tickwidth=1, tickcolor="black",
        tickfont=tf, ticklabelstandoff=1,
        minor=dict(tickmode="array", tickvals=mx, ticks="inside", ticklen=7,
                   tickwidth=1, tickcolor="black", showgrid=False),
    )
    layout_axes[ykey] = dict(
        domain=[pxy(yb), pxy(yt)], anchor=xr_id, type="log", range=yr,
        showline=True, linecolor="black", linewidth=1, mirror="ticks",
        showgrid=False, zeroline=False,
        tickmode="array", tickvals=ytv, ticktext=ytt, showticklabels=showy,
        ticks="inside", ticklen=15, tickwidth=1, tickcolor="black",
        tickfont=tf,
        minor=dict(tickmode="array", tickvals=my, ticks="inside", ticklen=9 if n <= 3 else 8,
                   tickwidth=1, tickcolor="black", showgrid=False),
    )

# outward tick stubs on the right edge of the right-hand panels (ticks cross the frame there)
for k, (n, x0, x1, yt, yb, xr, yr, xtv, xtt, ytv, ytt, showy, mx, my) in enumerate(panel_specs[3:]):
    m = 7 + k
    xr_id, yr_id, xkey, ykey = ax_names(n)
    layout_axes["yaxis%d" % m] = dict(
        domain=[pxy(yb), pxy(yt)], anchor=xr_id, overlaying=yr_id, side="right",
        type="log", range=yr, showline=False, showgrid=False, zeroline=False,
        tickmode="array", tickvals=ytv, showticklabels=False,
        ticks="outside", ticklen=7, tickwidth=1, tickcolor="black",
        minor=dict(tickmode="array", tickvals=my, ticks="outside", ticklen=5,
                   tickwidth=1, tickcolor="black", showgrid=False),
    )
    fig.add_trace(go.Scatter(x=[1], y=[10 ** yr[0]], mode="markers", xaxis=xr_id, yaxis="y%d" % m,
                             marker=dict(size=1, opacity=0), showlegend=False, hoverinfo="skip"))

# ---------------- background shapes ----------------
shapes = [
    dict(type="rect", xref="paper", yref="paper", x0=pxx(8), x1=pxx(898), y0=pxy(628), y1=pxy(8),
         fillcolor="white", line=dict(width=0), layer="below"),
    dict(type="rect", xref="paper", yref="paper", x0=pxx(915), x1=pxx(1792), y0=pxy(630), y1=pxy(8),
         fillcolor="white", line=dict(width=0), layer="below"),
]
band = [(1150, 1280, "#1e1306"), (1280, 1400, "#3a260c"), (1400, 1520, "#5a3b12"),
        (1520, 1660, "#6e4a18"), (1660, 1794, "#4d3210")]
for a, b, c in band:
    shapes.append(dict(type="rect", xref="paper", yref="paper", x0=pxx(a), x1=pxx(b), y0=pxy(8), y1=pxy(0),
                       fillcolor=c, line=dict(width=0), layer="below"))

for (lx0, lx1, ys) in [(382, 415, (435, 458, 482)), (1591, 1626, (437, 462, 487))]:
    shapes.append(dict(type="line", xref="paper", yref="paper", x0=pxx(lx0), x1=pxx(lx1),
                       y0=pxy(ys[0]), y1=pxy(ys[0]), line=dict(color="black", width=1.2)))
    shapes.append(dict(type="line", xref="paper", yref="paper", x0=pxx(lx0), x1=pxx(lx1),
                       y0=pxy(ys[1]), y1=pxy(ys[1]), line=dict(color="black", width=2.6, dash="2px,7px")))
    shapes.append(dict(type="line", xref="paper", yref="paper", x0=pxx(lx0), x1=pxx(lx1),
                       y0=pxy(ys[2]), y1=pxy(ys[2]), line=dict(color="black", width=1, dash="5px,3px")))

# ---------------- annotations ----------------
ann = []


def text(x, y, s, size, xanchor="center", angle=0):
    ann.append(dict(x=pxx(x), y=pxy(y), xref="paper", yref="paper", text=s, showarrow=False,
                    xanchor=xanchor, yanchor="middle", textangle=angle,
                    font=dict(family=SERIF, size=size, color="black")))


# left figure
text(172, 33, "angle in degrees", 22)
text(304, 35, "Be", 33)
text(566, 43, "Al", 33)
text(834, 43, "Pb", 33)
for x, y, s in [(173, 125, "1"), (182, 235, "4"), (230, 425, "10"),
                (408, 97, "1"), (443, 237, "4"), (477, 311, "10"),
                (740, 87, "1"), (740, 155, "4"), (737, 282, "10")]:
    text(x, y, s, 24)
text(428, 435, "EGSnrc", 21, "left")
text(428, 458, "Geant4", 21, "left")
text(428, 482, "Penelope", 21, "left")
text(29, 268, "Energy Fluence at 1 meter per incident electron (/m<sup>2</sup>)", 21, angle=-90)
text(475, 612, "Energy (MeV)", 22)

# right figure
text(1066, 33, "angle in degrees", 24)
text(1175, 100, "Be", 36)
text(1449, 77, "Al", 36)
text(1733, 68, "Pb", 36)
for x, y, s in [(1117, 70, "30"), (1088, 182, "60"), (1040, 390, "90"),
                (1378, 90, "30"), (1360, 158, "60"), (1327, 237, "90"),
                (1652, 88, "30"), (1646, 137, "60"), (1652, 262, "90")]:
    text(x, y, s, 24)
text(1640, 437, "EGSnrc", 22, "left")
text(1640, 462, "Geant4", 22, "left")
text(1640, 487, "Penelope", 22, "left")
text(937, 272, "Energy Fluence at 1 meter per incident electron (/m<sup>2</sup>)", 21, angle=-90)
text(1382, 620, "Energy (MeV)", 21)

fig.update_layout(
    width=W, height=H, autosize=False,
    margin=dict(l=0, r=0, t=0, b=0),
    paper_bgcolor="black", plot_bgcolor="white",
    showlegend=False,
    shapes=shapes, annotations=ann,
    font=dict(family=SERIF, color="black"),
    **layout_axes,
)

fig.write_html("out.html")
